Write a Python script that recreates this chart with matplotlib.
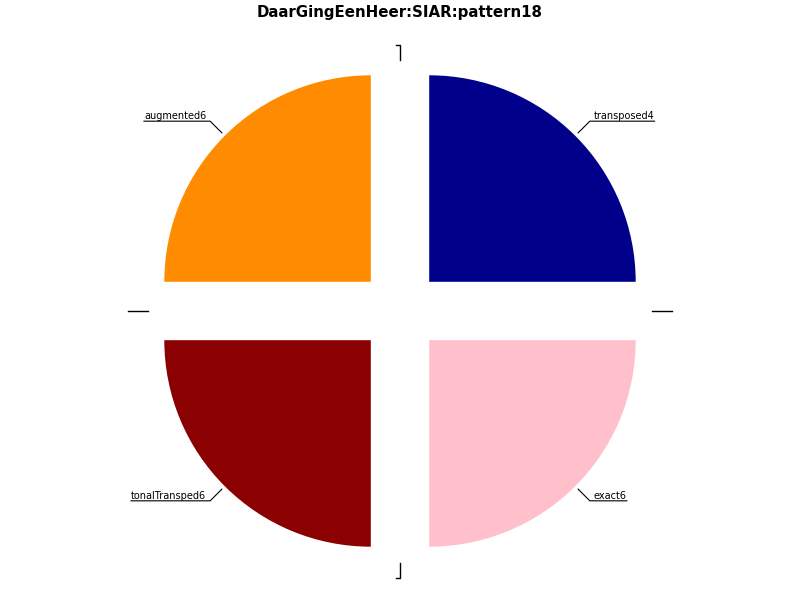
import numpy as np
import matplotlib
matplotlib.use("Agg")
import matplotlib.pyplot as plt

title = "DaarGingEenHeer:SIAR:pattern18"
labels = ["transposed4", "augmented6", "tonalTransped6", "exact6"]
values = [1, 1, 1, 1]
colors = ["#00008B", "#FF8C00", "#8B0000", "#FFC0CB"]
explode = [0.2, 0.2, 0.2, 0.2]

fig = plt.figure(figsize=(8, 6), dpi=100)
ax = fig.add_axes([0, 0, 1, 1])
wedges, _ = ax.pie(values, colors=colors, explode=explode, startangle=0,
                   counterclock=True, radius=1.0)
R = 206.5
ax.set_xlim(-400 / R, 400 / R)
ax.set_ylim(-289 / R, 311 / R)
ax.set_aspect("equal")
ax.axis("off")

fig.text(0.5, 1 - 13 / 600, title, ha="center", va="center",
         fontsize=10.8, fontweight="bold")

px = 1 / R
total = sum(values)
cum = 0
fig.canvas.draw()
renderer = fig.canvas.get_renderer()
for lab, v, ex in zip(labels, values, explode):
    ang = np.deg2rad((cum + v / 2) / total * 360)
    cum += v
    c, s = np.cos(ang), np.sin(ang)
    cx, cy = ex * c, ex * s
    x0, y0 = cx + 1.02 * c, cy + 1.02 * s
    x1, y1 = cx + 1.1 * c, cy + 1.1 * s
    side = 1 if c > 0 else -1
    tx = x1 + side * 4 * px
    t = ax.text(tx, y1 + 2 * px, lab, ha="left" if side > 0 else "right",
                va="baseline", fontsize=7)
    bb = t.get_window_extent(renderer).transformed(ax.transData.inverted())
    xend = bb.x1 if side > 0 else bb.x0
    ax.plot([x0, x1, xend], [y0, y1, y1], color="black", lw=0.8)

# small marks around the pie
ax.plot([-4 * px, 0, 0], [266 * px, 266 * px, 251 * px], color="black", lw=1)
ax.plot([-4 * px, 0, 0], [-267 * px, -267 * px, -252 * px], color="black", lw=1)
ax.plot([-272 * px, -252 * px], [0, 0], color="black", lw=1)
ax.plot([252 * px, 272 * px], [0, 0], color="black", lw=1)

fig.savefig("out.png", dpi=100)
